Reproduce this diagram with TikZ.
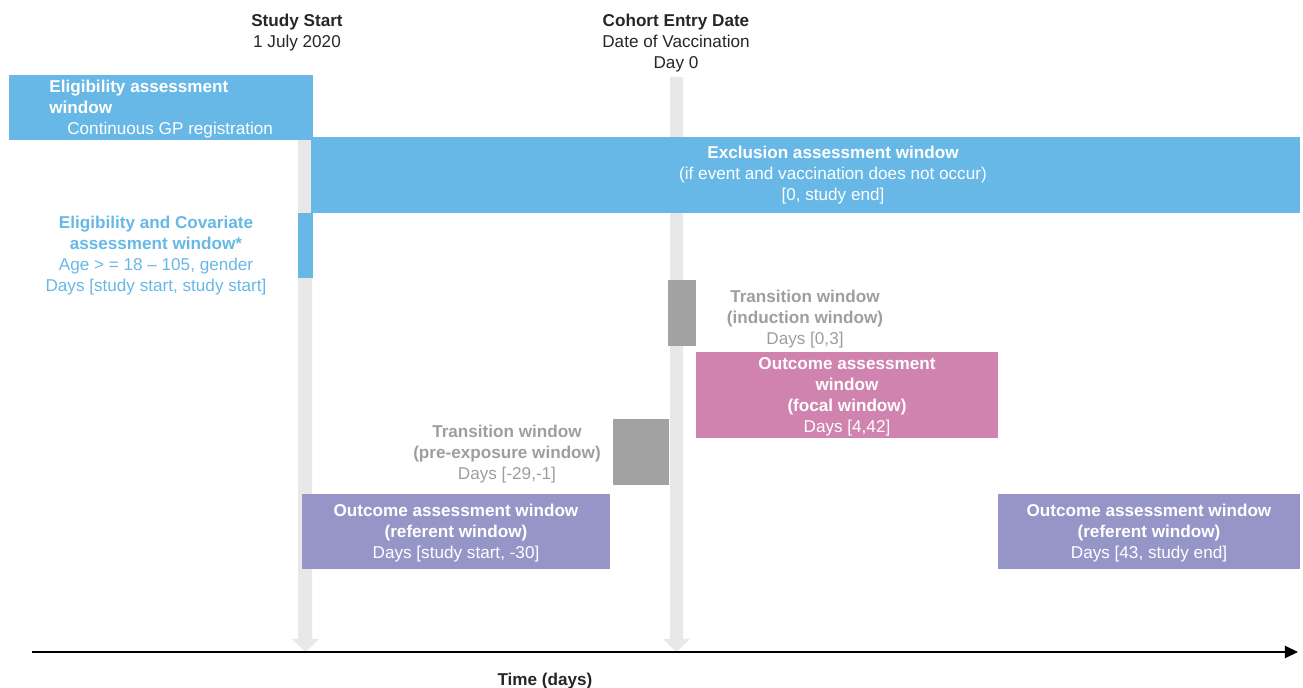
\documentclass[tikz,border=0pt]{standalone}
\usepackage{fontspec}
\setmainfont{Liberation Sans}
\usetikzlibrary{arrows.meta}
\definecolor{winblue}{RGB}{103,184,230}
\definecolor{winpink}{RGB}{207,131,174}
\definecolor{winpurple}{RGB}{149,149,200}
\definecolor{transgrey}{RGB}{161,162,161}
\definecolor{textgrey}{RGB}{158,158,158}
\definecolor{markgrey}{RGB}{232,232,232}
\definecolor{headgrey}{RGB}{38,38,38}
\begin{document}
\begin{tikzpicture}[x=0.02cm, y=-0.02cm,
  font=\fontsize{9.75}{11.95}\selectfont,
  win/.style 2 args={inner sep=0pt,
    minimum width=#1*0.02cm, minimum height=#2*0.02cm},
  lbl/.style={inner sep=0pt, align=center, yshift=-0.04cm}]
  \useasboundingbox (0,0) rectangle (1303,688);
  % day markers
  \fill[markgrey] (298,140) -- (312,140) -- (312,639) -- (319,639) -- (305.5,652)
    -- (292,639) -- (298,639) -- cycle;
  \fill[markgrey] (670,77) -- (683,77) -- (683,639) -- (690,639) -- (676.5,652)
    -- (663,639) -- (670,639) -- cycle;
  \node[lbl, text=headgrey] (start) at (297,30.5) {\textbf{Study Start}\\1 July 2020};
  \node[lbl, text=headgrey] (entry) at (676,41) {\textbf{Cohort Entry Date}\\Date of Vaccination\\Day 0};
  % windows
  \node[win={304}{65}, fill=winblue] (elig) at (161,107.5) {};
  \node[lbl, align=left, text=white, anchor=west] (eligtxt) at (49,107)
    {\textbf{Eligibility assessment}\\\textbf{window}\\\hspace{0.36cm}Continuous GP registration};
  \node[win={989}{76}, fill=winblue] (excl) at (805.5,175) {};
  \node[lbl, text=white] (excltxt) at (833,173)
    {\textbf{Exclusion assessment window}\\(if event and vaccination does not occur)\\{}[0, study end]};
  \node[win={15}{65}, fill=winblue] (cov) at (305.5,245.5) {};
  \node[lbl, text=winblue] (covtxt) at (156,253.5)
    {\textbf{Eligibility and Covariate}\\\textbf{assessment window*}\\Age > = 18 -- 105, gender\\Days [study start, study start]};
  \node[win={28}{66}, fill=transgrey] (ind) at (682,313) {};
  \node[lbl, text=textgrey] (indtxt) at (805,317)
    {\textbf{Transition window}\\\textbf{(induction window)}\\Days [0,3]};
  \node[win={302}{86}, fill=winpink] (focal) at (847,395) {};
  \node[lbl, text=white] (focaltxt) at (focal)
    {\textbf{Outcome assessment}\\\textbf{window}\\\textbf{(focal window)}\\Days [4,42]};
  \node[win={56}{66}, fill=transgrey] (pre) at (641,452) {};
  \node[lbl, text=textgrey] (pretxt) at (507,452)
    {\textbf{Transition window}\\\textbf{(pre-exposure window)}\\Days [-29,-1]};
  \node[win={308}{75}, fill=winpurple] (ref1) at (456,531.5) {};
  \node[lbl, text=white] (ref1txt) at (ref1)
    {\textbf{Outcome assessment window}\\\textbf{(referent window)}\\Days [study start, -30]};
  \node[win={302}{75}, fill=winpurple] (ref2) at (1149,531.5) {};
  \node[lbl, text=white] (ref2txt) at (ref2)
    {\textbf{Outcome assessment window}\\\textbf{(referent window)}\\Days [43, study end]};
  % time axis
  \coordinate (t0) at (32,652);
  \coordinate (t1) at (1298,652);
  \draw[line width=0.9pt, -{Triangle[length=7.5pt,width=7pt]}] (t0) -- (t1);
  \node[lbl, text=headgrey] (time) at (545,679) {\textbf{Time (days)}};
\end{tikzpicture}
\end{document}
